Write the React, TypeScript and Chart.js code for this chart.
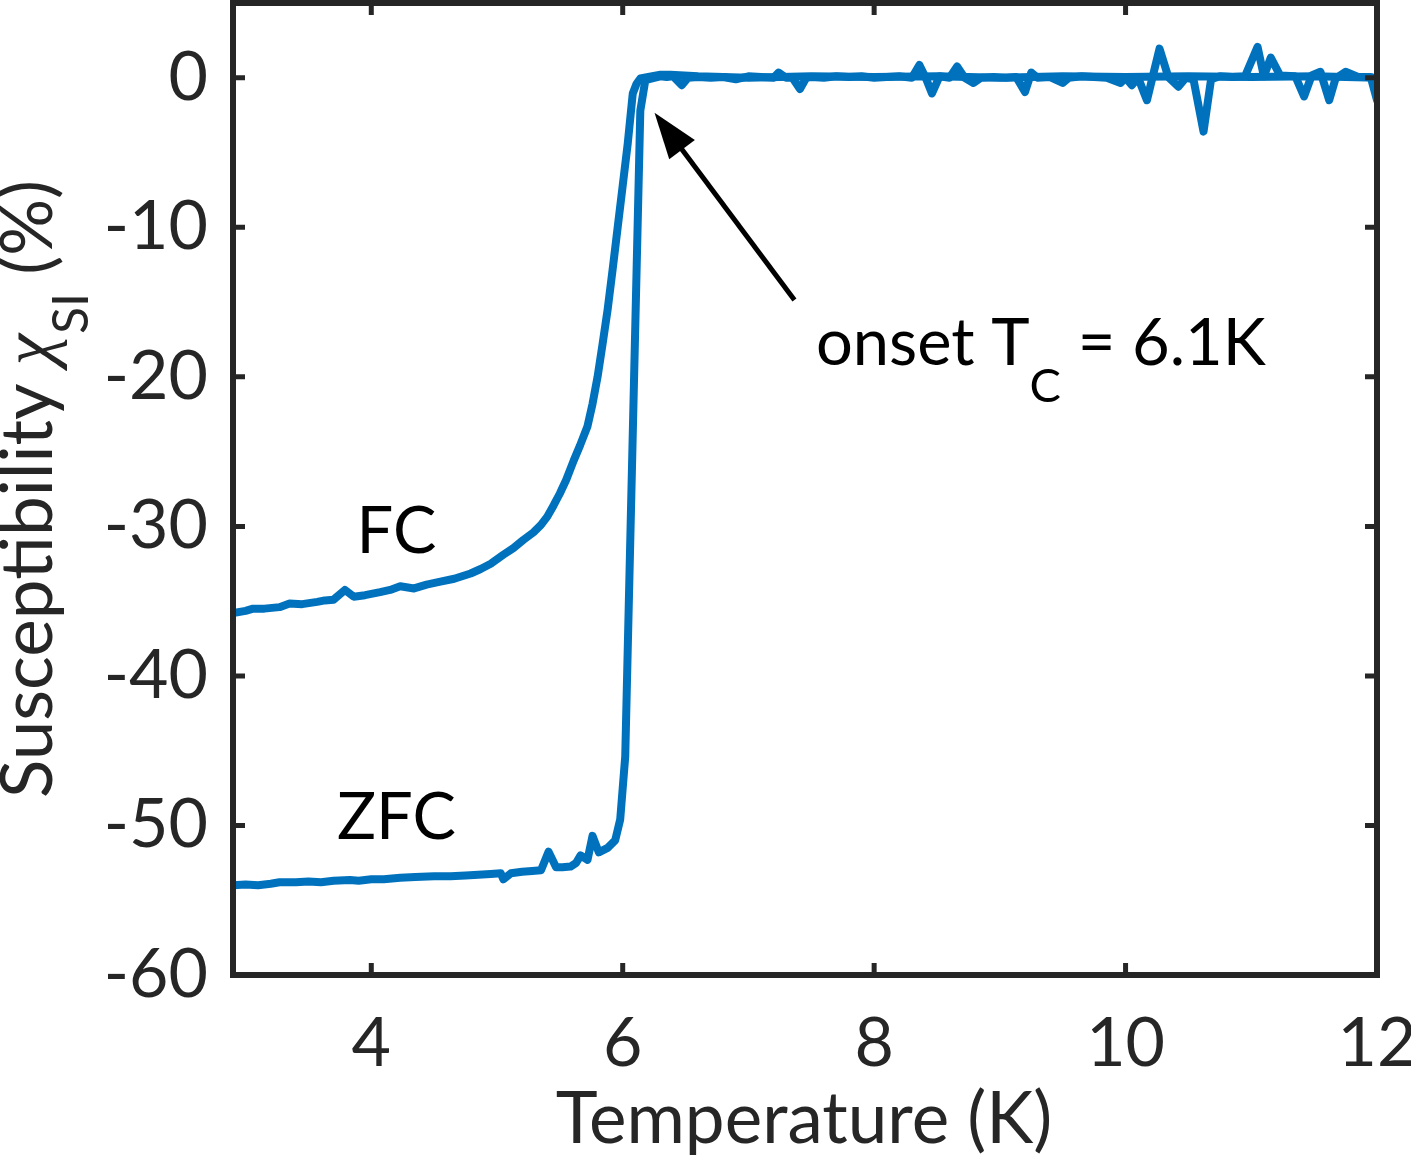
import { useEffect, useRef } from 'react';
import Chart from 'chart.js/auto';

// ZFC branch, temperature in K, susceptibility in %
const zfcT = [
  2.9, 3.0, 3.1, 3.2, 3.27, 3.4, 3.5, 3.6, 3.7, 3.83, 3.9, 4.0, 4.1, 4.23, 4.35, 4.5, 4.63, 4.75, 4.85, 4.95,
  5.03, 5.05, 5.11, 5.2, 5.28, 5.35, 5.41, 5.47, 5.52, 5.585, 5.63, 5.665, 5.72, 5.76, 5.81, 5.88, 5.94, 5.98,
  6.02, 6.14, 6.18, 6.25, 6.3, 6.35, 6.4, 6.47, 6.52, 6.6, 6.7, 6.8, 6.9, 7.0, 7.1, 7.2, 7.24, 7.3, 7.35, 7.41,
  7.46, 7.5, 7.6, 7.7, 7.8, 7.9, 8.0, 8.1, 8.2, 8.3, 8.36, 8.41, 8.46, 8.52, 8.6, 8.66, 8.72, 8.79, 8.85, 8.95,
  9.05, 9.13, 9.2, 9.25, 9.3, 9.4, 9.5, 9.55, 9.65, 9.75, 9.85, 9.96, 10.0, 10.05, 10.1, 10.17, 10.27, 10.34,
  10.42, 10.48, 10.54, 10.62, 10.68, 10.75, 10.85, 10.95, 11.05, 11.1, 11.155, 11.23, 11.35, 11.42, 11.48,
  11.55, 11.62, 11.67, 11.75, 11.85, 11.95, 12.0,
];
const zfcChi = [
  -54.0, -53.95, -54.0, -53.9, -53.8, -53.8, -53.75, -53.8, -53.7, -53.65, -53.7, -53.6, -53.6, -53.5, -53.45,
  -53.4, -53.4, -53.35, -53.3, -53.25, -53.2, -53.6, -53.2, -53.1, -53.05, -53.0, -51.75, -52.8, -52.8, -52.75,
  -52.5, -52.0, -52.3, -50.7, -51.8, -51.5, -51.0, -49.6, -45.4, -2.2, -0.15, 0.0, 0.1, 0.05, 0.1, -0.5, 0.0,
  0.05, 0.0, 0.05, -0.1, 0.1, 0.05, 0.0, 0.35, 0.0, 0.0, -0.75, 0.0, 0.05, 0.0, 0.1, 0.05, 0.1, 0.0, 0.05, 0.1,
  0.0, 0.85, 0.0, -1.05, 0.1, 0.0, 0.75, 0.0, -0.35, 0.0, 0.05, 0.0, 0.05, -0.95, 0.35, 0.0, 0.05, -0.35, 0.0,
  0.1, 0.05, 0.0, -0.35, 0.0, -0.5, 0.0, -1.5, 1.95, 0.05, -0.6, 0.0, -0.1, -3.6, -0.1, 0.1, 0.05, 0.1, 2.07,
  0.1, 1.35, 0.15, 0.1, -1.25, 0.15, 0.4, -1.5, -0.05, 0.4, 0.05, 0.05, -1.5,
];

// FC branch
const fcT = [
  2.9, 3.0, 3.06, 3.15, 3.27, 3.35, 3.45, 3.57, 3.63, 3.7, 3.79, 3.86, 3.95, 4.07, 4.15, 4.23, 4.34, 4.44,
  4.55, 4.66, 4.79, 4.87, 4.95, 5.05, 5.13, 5.21, 5.29, 5.35, 5.4, 5.45, 5.5, 5.55, 5.61, 5.66, 5.72, 5.76,
  5.8, 5.84, 5.88, 5.92, 5.96, 6.0, 6.04, 6.08, 6.11, 6.14, 6.3, 6.38, 6.6, 7.0, 7.5, 8.0, 8.5, 9.0, 9.5,
  10.0, 10.5, 11.0, 11.5, 12.0,
];
const fcChi = [
  -35.8, -35.65, -35.5, -35.5, -35.4, -35.15, -35.2, -35.05, -34.95, -34.9, -34.25, -34.7, -34.6, -34.4,
  -34.25, -34.0, -34.15, -33.9, -33.7, -33.5, -33.15, -32.85, -32.5, -31.9, -31.45, -30.9, -30.4, -29.9,
  -29.35, -28.6, -27.8, -26.9, -25.6, -24.6, -23.3, -21.8, -20.0, -17.8, -15.5, -12.8, -10.0, -7.2, -4.4,
  -1.05, -0.4, -0.05, 0.2, 0.2, 0.1, 0.0, 0.1, 0.05, 0.1, 0.0, 0.1, 0.05, 0.1, 0.05, 0.1, 0.0,
];

const xRange = [2.9, 12];
const yRange = [-60, 5];

const lineColor = '#0072BD';
const axisColor = '#262626';
const fontFamily = 'Lato, "Open Sans", sans-serif';

const framePlugin = {
  id: 'frame',
  afterDatasetsDraw(chart: any) {
    const { ctx, chartArea: a, scales } = chart;
    const tickLen = 12;
    ctx.save();
    ctx.strokeStyle = axisColor;
    ctx.lineWidth = 5;
    ctx.beginPath();
    for (const t of scales.x.ticks) {
      const px = scales.x.getPixelForValue(t.value);
      ctx.moveTo(px, a.bottom);
      ctx.lineTo(px, a.bottom - tickLen);
      ctx.moveTo(px, a.top);
      ctx.lineTo(px, a.top + tickLen);
    }
    for (const t of scales.y.ticks) {
      const py = scales.y.getPixelForValue(t.value);
      ctx.moveTo(a.left, py);
      ctx.lineTo(a.left + tickLen, py);
      ctx.moveTo(a.right, py);
      ctx.lineTo(a.right - tickLen, py);
    }
    ctx.stroke();
    ctx.lineWidth = 6;
    ctx.lineJoin = 'miter';
    ctx.strokeRect(a.left, a.top, a.right - a.left, a.bottom - a.top);
    ctx.restore();
  },
};

// draws a run of text pieces left to right, each with its own font and baseline shift
function drawRun(ctx: CanvasRenderingContext2D, x: number, y: number, parts: [string, string, number][], align: 'left' | 'center') {
  let total = 0;
  for (const [txt, font] of parts) {
    ctx.font = font;
    total += ctx.measureText(txt).width;
  }
  let cx = align === 'center' ? x - total / 2 : x;
  for (const [txt, font, dy] of parts) {
    ctx.font = font;
    ctx.fillText(txt, cx, y + dy);
    cx += ctx.measureText(txt).width;
  }
}

const textPlugin = {
  id: 'texts',
  afterDraw(chart: any) {
    const { ctx, chartArea: a, scales } = chart;
    const X = (v: number) => scales.x.getPixelForValue(v);
    const Y = (v: number) => scales.y.getPixelForValue(v);
    const main = `71px ${fontFamily}`;
    const sub = `50px ${fontFamily}`;
    ctx.save();
    ctx.textBaseline = 'alphabetic';

    // curve labels
    ctx.fillStyle = '#000';
    ctx.textAlign = 'center';
    ctx.font = `65px ${fontFamily}`;
    ctx.fillText('FC', X(4.2), Y(-31.8));
    ctx.fillText('ZFC', X(4.2), Y(-50.9));

    // arrow to onset
    const x0 = X(7.366), y0 = Y(-14.86), x1 = X(6.253), y1 = Y(-2.34);
    const ang = Math.atan2(y1 - y0, x1 - x0);
    const hl = 46, hw = 16;
    const bx = x1 - hl * Math.cos(ang), by = y1 - hl * Math.sin(ang);
    ctx.strokeStyle = '#000';
    ctx.lineWidth = 5;
    ctx.beginPath();
    ctx.moveTo(x0, y0);
    ctx.lineTo(bx + 6 * Math.cos(ang), by + 6 * Math.sin(ang));
    ctx.stroke();
    ctx.beginPath();
    ctx.moveTo(x1, y1);
    ctx.lineTo(bx + hw * Math.sin(ang), by - hw * Math.cos(ang));
    ctx.lineTo(bx - hw * Math.sin(ang), by + hw * Math.cos(ang));
    ctx.closePath();
    ctx.fillStyle = '#000';
    ctx.fill();

    ctx.textAlign = 'left';
    drawRun(ctx, X(7.537), Y(-19.21), [
      ['onset T', `65px ${fontFamily}`, 0],
      ['C', `47px ${fontFamily}`, 37],
      [' = 6.1K', `65px ${fontFamily}`, 0],
    ], 'left');

    // axis titles
    ctx.fillStyle = axisColor;
    drawRun(ctx, (a.left + a.right) / 2 - 1, 1143, [['Temperature (K)', main, 0]], 'center');

    ctx.translate(52, (a.top + a.bottom) / 2);
    ctx.rotate(-Math.PI / 2);
    drawRun(ctx, 0, 0, [
      ['Susceptibility ', main, 0],
      ['\u03c7', 'italic 71px "Liberation Serif", serif', 0],
      ['SI', sub, 36],
      [' (%)', main, 0],
    ], 'center');
    ctx.restore();
  },
};

const noPadding = (s: any) => {
  s.paddingTop = 0;
  s.paddingBottom = 0;
  s.paddingLeft = 0;
  s.paddingRight = 0;
};

export default function App() {
  const canvasRef = useRef<HTMLCanvasElement | null>(null);

  useEffect(() => {
    if (!canvasRef.current) return;
    const lineStyle = {
      borderColor: lineColor,
      borderWidth: 8,
      borderJoinStyle: 'round' as const,
      borderCapStyle: 'round' as const,
      pointRadius: 0,
      tension: 0,
    };
    const chart = new Chart(canvasRef.current, {
      type: 'line',
      data: {
        datasets: [
          { label: 'ZFC', data: zfcT.map((t, i) => ({ x: t, y: zfcChi[i] })), ...lineStyle },
          { label: 'FC', data: fcT.map((t, i) => ({ x: t, y: fcChi[i] })), ...lineStyle },
        ],
      },
      options: {
        animation: false,
        responsive: false,
        devicePixelRatio: 1,
        layout: { padding: { top: 3, right: 34, left: 0, bottom: 0 } },
        plugins: { legend: { display: false }, tooltip: { enabled: false } },
        scales: {
          x: {
            type: 'linear',
            min: xRange[0],
            max: xRange[1],
            grid: { display: false, drawTicks: false },
            border: { display: false },
            ticks: {
              stepSize: 2,
              includeBounds: false,
              color: axisColor,
              padding: 28,
              font: { family: fontFamily, size: 68 },
              maxRotation: 0,
            },
            afterFit(s: any) {
              s.height = 1158 - 975;
              noPadding(s);
            },
          },
          y: {
            type: 'linear',
            min: yRange[0],
            max: yRange[1],
            grid: { display: false, drawTicks: false },
            border: { display: false },
            ticks: {
              stepSize: 10,
              includeBounds: false,
              color: axisColor,
              padding: 25,
              font: { family: fontFamily, size: 68 },
            },
            afterFit(s: any) {
              s.width = 233;
              noPadding(s);
            },
          },
        },
      },
      plugins: [framePlugin, textPlugin],
    });
    return () => chart.destroy();
  }, []);

  return (
    <div style={{ position: 'fixed', left: 0, top: 0, width: 1411, height: 1158, background: '#fff' }}>
      <canvas ref={canvasRef} width={1411} height={1158} style={{ width: 1411, height: 1158 }} />
    </div>
  );
}
